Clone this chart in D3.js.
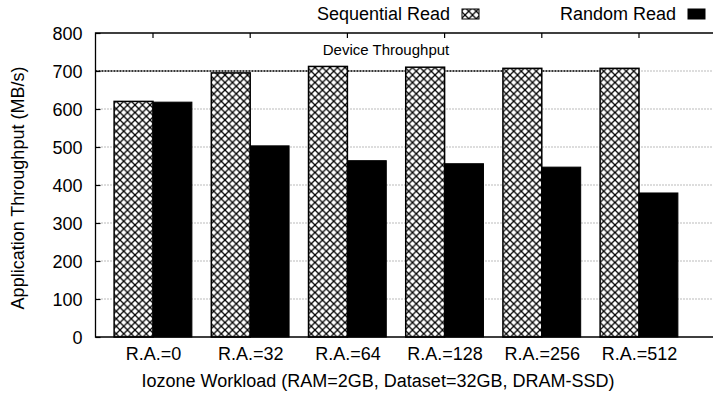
<!DOCTYPE html>
<html>
<head>
<meta charset="utf-8">
<script src="https://cdn.jsdelivr.net/npm/d3@7"></script>
<style>
  body { margin: 0; background: #fff; }
  text { font-family: "Liberation Sans", Arial, sans-serif; fill: #000; }
</style>
</head>
<body>
<svg id="chart" width="713" height="397"></svg>
<script>
const categories = ['R.A.=0', 'R.A.=32', 'R.A.=64', 'R.A.=128', 'R.A.=256', 'R.A.=512']
const sequentialRead = [620, 695, 712, 710, 707, 707]
const randomRead = [618, 503, 464, 456, 447, 379]
const yTicks = [0, 100, 200, 300, 400, 500, 600, 700, 800]
const deviceThroughput = 700

const plot = { left: 95.5, right: 720, top: 33, bottom: 337 }

const svg = d3.select('#chart')

// crosshatch fill for sequential bars
const defs = svg.append('defs')
const pat = defs.append('pattern')
  .attr('id', 'xhatch')
  .attr('patternUnits', 'userSpaceOnUse')
  .attr('width', 7.5)
  .attr('height', 7.5)
pat.append('rect').attr('width', 7.5).attr('height', 7.5).attr('fill', '#fff')
pat.append('path')
  .attr('d', 'M-1,-1 L8.5,8.5 M-1,8.5 L8.5,-1')
  .attr('stroke', '#000')
  .attr('stroke-width', 1.3)

// scales
const x = d3.scalePoint().domain(categories).range([153, 639])
const step = x.step()
const barW = step * 0.4
const y = d3.scaleLinear().domain([0, 800]).range([plot.bottom, plot.top])

// grid lines
svg.append('g')
  .selectAll('line')
  .data(yTicks.filter(d => d > 0 && d < 800))
  .join('line')
  .attr('x1', plot.left)
  .attr('x2', plot.right)
  .attr('y1', d => y(d))
  .attr('y2', d => y(d))
  .attr('stroke', '#777')
  .attr('stroke-width', 1)
  .attr('stroke-dasharray', '1,2')

// device throughput line
svg.append('line')
  .attr('x1', plot.left)
  .attr('x2', x(categories[categories.length - 1]))
  .attr('y1', y(deviceThroughput))
  .attr('y2', y(deviceThroughput))
  .attr('stroke', '#000')
  .attr('stroke-width', 1.6)
  .attr('stroke-dasharray', '2,1')

svg.append('text')
  .attr('x', 386)
  .attr('y', y(deviceThroughput) - 16)
  .attr('text-anchor', 'middle')
  .style('font-size', '15px')
  .text('Device Throughput')

// bars
svg.append('g')
  .selectAll('rect')
  .data(categories)
  .join('rect')
  .attr('x', d => x(d) - barW)
  .attr('y', (d, i) => y(sequentialRead[i]))
  .attr('width', barW)
  .attr('height', (d, i) => y(0) - y(sequentialRead[i]))
  .attr('fill', 'url(#xhatch)')
  .attr('stroke', '#000')
  .attr('stroke-width', 1.5)

svg.append('g')
  .selectAll('rect')
  .data(categories)
  .join('rect')
  .attr('x', d => x(d))
  .attr('y', (d, i) => y(randomRead[i]))
  .attr('width', barW)
  .attr('height', (d, i) => y(0) - y(randomRead[i]))
  .attr('fill', '#000')
  .attr('stroke', '#000')
  .attr('stroke-width', 1)

// frame: left, top, bottom
svg.append('path')
  .attr('d', `M${plot.right},${plot.top} H${plot.left} V${plot.bottom} H${plot.right}`)
  .attr('fill', 'none')
  .attr('stroke', '#000')
  .attr('stroke-width', 1.3)

// y axis
svg.append('g')
  .attr('transform', `translate(${plot.left},0)`)
  .call(d3.axisLeft(y).tickValues(yTicks).tickSize(-5).tickPadding(13))
  .call(g => g.select('.domain').remove())
  .call(g => g.selectAll('line').attr('stroke', '#000').attr('stroke-width', 1.2))
  .call(g => g.selectAll('text')
    .attr('font-family', '"Liberation Sans", Arial, sans-serif')
    .attr('font-size', 18)
    .attr('dy', '0.35em'))

// top mirror ticks
svg.append('g')
  .selectAll('line')
  .data(categories)
  .join('line')
  .attr('x1', d => x(d))
  .attr('x2', d => x(d))
  .attr('y1', plot.top)
  .attr('y2', plot.top + 5)
  .attr('stroke', '#000')
  .attr('stroke-width', 1.2)

// x axis labels
svg.append('g')
  .attr('transform', `translate(0,${plot.bottom})`)
  .call(d3.axisBottom(x).tickSize(0).tickPadding(10))
  .call(g => g.select('.domain').remove())
  .call(g => g.selectAll('text')
    .attr('font-family', '"Liberation Sans", Arial, sans-serif')
    .attr('font-size', 18))

// axis titles
svg.append('text')
  .attr('transform', 'rotate(-90)')
  .attr('x', -188)
  .attr('y', 18)
  .attr('dy', '0.35em')
  .attr('text-anchor', 'middle')
  .style('font-size', '18px')
  .text('Application Throughput (MB/s)')

svg.append('text')
  .attr('x', 378)
  .attr('y', 381)
  .attr('dy', '0.35em')
  .attr('text-anchor', 'middle')
  .style('font-size', '18px')
  .text('Iozone Workload (RAM=2GB, Dataset=32GB, DRAM-SSD)')

// legend
const legend = [
  { label: 'Sequential Read', textEnd: 450, boxX: 462, fill: 'url(#xhatch)' },
  { label: 'Random Read', textEnd: 676, boxX: 688, fill: '#000' }
]
legend.forEach(l => {
  svg.append('text')
    .attr('x', l.textEnd)
    .attr('y', 14)
    .attr('dy', '0.35em')
    .attr('text-anchor', 'end')
    .style('font-size', '18px')
    .text(l.label)
  svg.append('rect')
    .attr('x', l.boxX)
    .attr('y', 9)
    .attr('width', 17)
    .attr('height', 10)
    .attr('fill', l.fill)
    .attr('stroke', '#000')
    .attr('stroke-width', 1)
})
</script>
</body>
</html>
